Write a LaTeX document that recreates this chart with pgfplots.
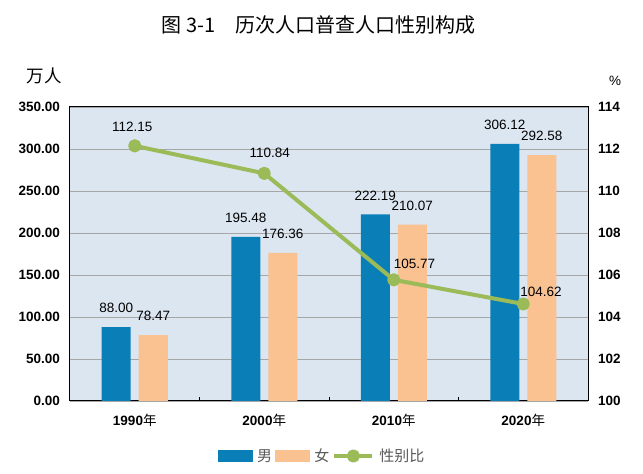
\documentclass[border=0pt]{standalone}
\usepackage{fontspec}
\usepackage{pgfplots}
\usepackage{pgfplotstable}
\pgfplotsset{compat=1.18}
\setmainfont{Liberation Sans}
\newfontfamily\cjk{Noto Sans CJK SC}

\definecolor{nan}{HTML}{0A7EB6}
\definecolor{nv}{HTML}{FAC191}
\definecolor{ratio}{HTML}{9BBB59}
\definecolor{plotbg}{HTML}{DCE6F1}
\definecolor{gridc}{HTML}{A6A6A6}
\definecolor{legtext}{HTML}{595959}

\newcommand\lab{\fontsize{13.5}{14}\selectfont}

\pgfplotsset{
  ratio legend/.style={legend image code/.code={%
    \draw[mark repeat=2, mark phase=2, ##1] plot coordinates {(0pt,0pt) (19pt,0pt) (38pt,0pt)};}},
}

% census years 1990-2020: male, female (10k persons), sex ratio (%)
\pgfplotstableread{
x male female ratio
0 88.00 78.47 112.15
1 195.48 176.36 110.84
2 222.19 210.07 105.77
3 306.12 292.58 104.62
}\census

\begin{document}
\begin{tikzpicture}
\begin{axis}[
    name=ax,
    width=518pt, height=294pt, scale only axis,
    xmin=-0.5, xmax=3.5, ymin=0, ymax=350,
    ybar=8pt, bar width=29pt,
    axis background/.style={fill=plotbg},
    axis line style={black, line width=1pt},
    xtick={0,1,2,3},
    xticklabels={{\textbf{1990}{\cjk 年}},{\textbf{2000}{\cjk 年}},{\textbf{2010}{\cjk 年}},{\textbf{2020}{\cjk 年}}},
    minor xtick={0.5,1.5,2.5},
    major tick length=0pt, minor tick length=4pt,
    tick align=inside, tick style={black, line width=0.8pt},
    xtick pos=bottom, ytick pos=left,
    ytick={0,50,...,350},
    ymajorgrids=true,
    grid style={gridc, line width=0.8pt},
    scaled y ticks=false,
    xticklabel style={font=\lab, inner sep=0pt, anchor=north, yshift=-13pt},
    yticklabel style={font=\lab\bfseries, inner sep=0pt, xshift=-10pt,
      /pgf/number format/fixed, /pgf/number format/fixed zerofill,
      /pgf/number format/precision=2, /pgf/number format/assume math mode=true},
    nodes near coords={\pgfmathprintnumber[fixed, fixed zerofill, precision=2, assume math mode=true]{\pgfplotspointmeta}},
    every node near coord/.append style={font=\lab, black, inner sep=0pt, anchor=south, yshift=14pt},
]
\addplot[fill=nan, draw=none] table[x=x, y=male] {\census};
\addplot[fill=nv, draw=none] table[x=x, y=female] {\census};
\end{axis}

\begin{axis}[
    width=518pt, height=294pt, scale only axis,
    xmin=-0.5, xmax=3.5, ymin=100, ymax=114,
    axis x line=none, axis y line*=right,
    axis line style={black, line width=1pt},
    ytick={100,102,...,114},
    major tick length=0pt,
    yticklabel style={font=\lab\bfseries, inner sep=0pt, xshift=10pt,
      /pgf/number format/assume math mode=true},
    legend style={font=\cjk\fontsize{15}{15}\selectfont, text=legtext,
      draw=none, fill=none, legend columns=-1,
      at={(0.5,0)}, anchor=center, xshift=-7pt, yshift=-55pt,
      /tikz/every even column/.append style={column sep=1pt},
      /tikz/every odd column/.append style={column sep=3pt},
      cells={anchor=west}},
]
\addlegendimage{legend image code/.code={\fill[nan] (0pt,-5.5pt) rectangle (34pt,5.5pt);}}
\addlegendentry{男}
\addlegendimage{legend image code/.code={\fill[nv] (0pt,-5.5pt) rectangle (34pt,5.5pt);}}
\addlegendentry{女}
\addplot[color=ratio, line width=4pt, line join=round, mark=*, mark size=4.6pt,
  mark options={solid, fill=ratio}, ratio legend]
  table[x=x, y=ratio] {\census};
\addlegendentry{性别比}

\node[anchor=south, inner sep=0pt, font=\lab, xshift=-2.5pt, yshift=14pt] at (axis cs:0,112.15) {112.15};
\node[anchor=south, inner sep=0pt, font=\lab, xshift=5.5pt, yshift=16pt] at (axis cs:1,110.84) {110.84};
\node[anchor=south west, inner sep=0pt, font=\lab, xshift=0pt, yshift=11pt] at (axis cs:2,105.77) {105.77};
\node[anchor=south west, inner sep=0pt, font=\lab, xshift=-3pt, yshift=7pt] at (axis cs:3,104.62) {104.62};
\end{axis}

\node[font=\cjk\fontsize{20}{20}\selectfont] at ([shift={(248.5pt,376pt)}]ax.south west) {图 3-1　历次人口普查人口性别构成};
\node[font=\cjk\fontsize{17.5}{17.5}\selectfont] at ([shift={(-25.5pt,325.5pt)}]ax.south west) {万人};
\node[font=\lab] at ([shift={(545pt,320.5pt)}]ax.south west) {\%};

\pgfresetboundingbox
\path[use as bounding box] ([shift={(-70pt,-73pt)}]ax.south west) rectangle ++(643pt,474pt);
\end{tikzpicture}
\end{document}
